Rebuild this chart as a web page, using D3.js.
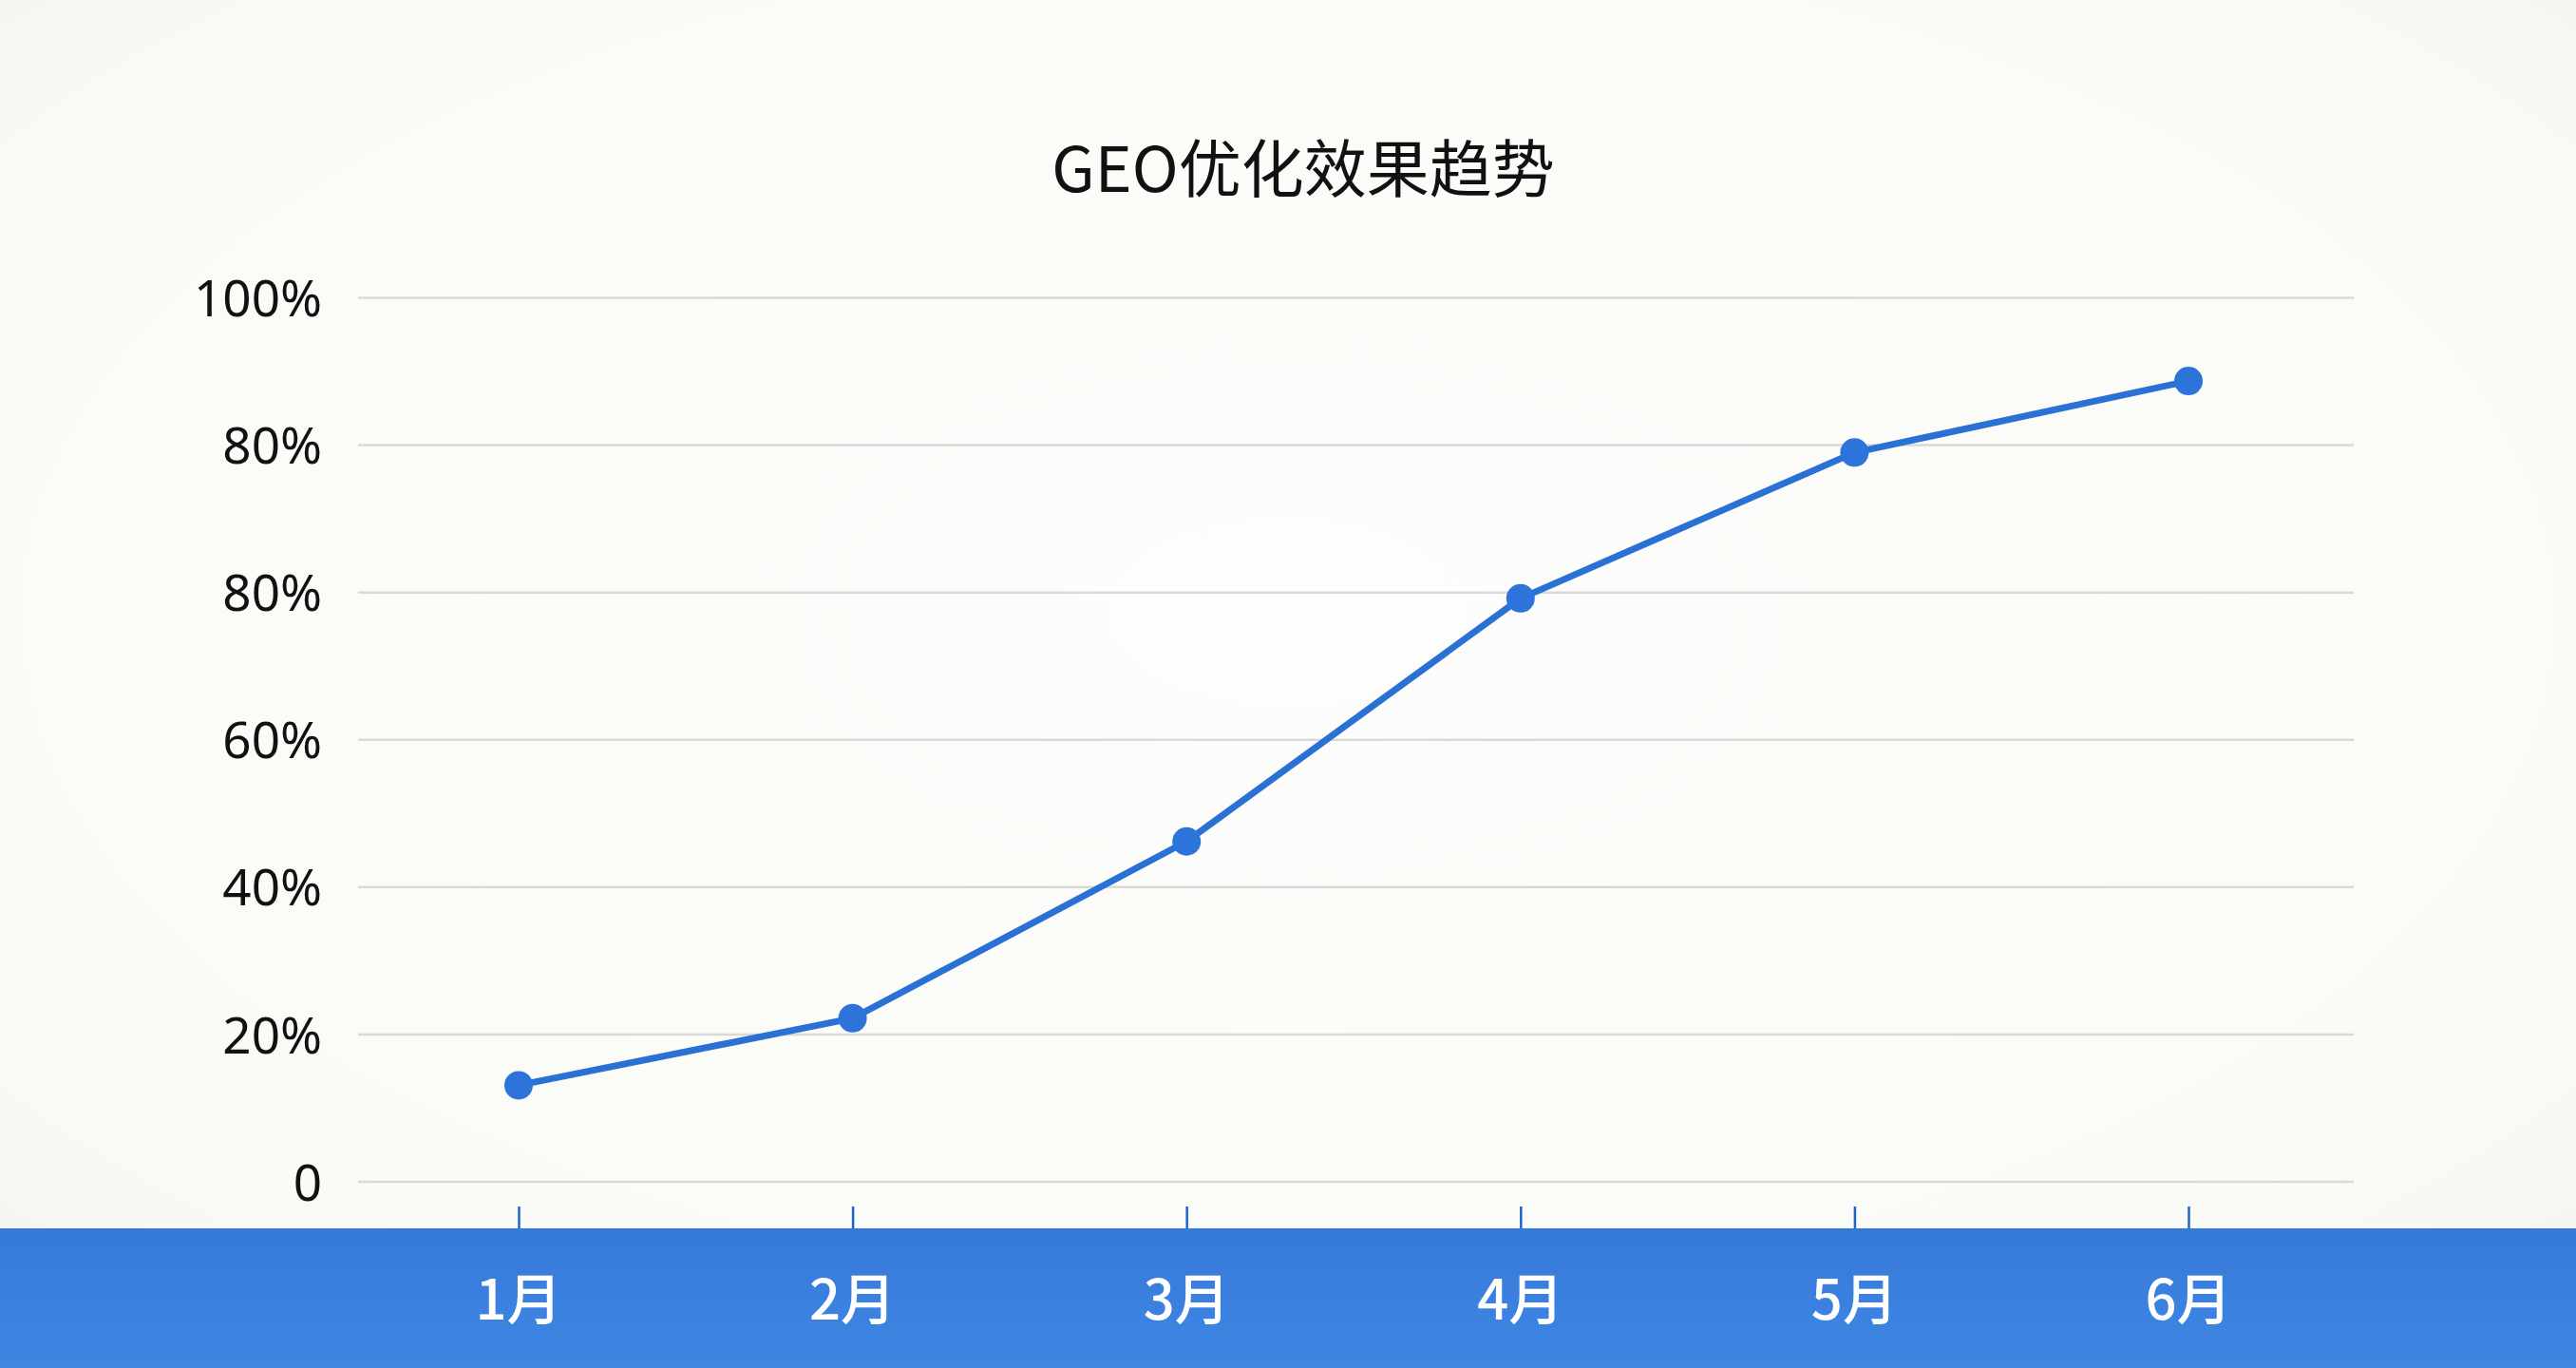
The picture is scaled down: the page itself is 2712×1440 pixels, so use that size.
<!DOCTYPE html>
<html>
<head>
<meta charset="utf-8">
<script src="https://cdn.jsdelivr.net/npm/d3@7/dist/d3.min.js"></script>
<style>
  html, body { margin: 0; padding: 0; background: #fbfbf8; }
  svg { display: block; }
</style>
</head>
<body>
<script>
// ---- data ----
const title = "GEO优化效果趋势";
const months = ["1月", "2月", "3月", "4月", "5月", "6月"];
const values = [13.1, 22.2, 46.2, 79.2, 99.0, 108.7];
const yTickValues = [0, 20, 40, 60, 80, 100, 120];
const yTickLabels = ["0", "20%", "40%", "60%", "80%", "80%", "100%"];

const W = 2712, H = 1440;
const svg = d3.select("body").append("svg").attr("width", W).attr("height", H);
const defs = svg.append("defs");

const bg = defs.append("radialGradient").attr("id", "bg").attr("cx", "50%").attr("cy", "45%").attr("r", "75%");
bg.append("stop").attr("offset", "0%").attr("stop-color", "#fdfdfb");
bg.append("stop").attr("offset", "75%").attr("stop-color", "#fafaf7");
bg.append("stop").attr("offset", "100%").attr("stop-color", "#f2f2ee");
svg.append("rect").attr("width", W).attr("height", H).attr("fill", "url(#bg)");

const band = defs.append("linearGradient").attr("id", "band").attr("x1", "0").attr("y1", "0").attr("x2", "0").attr("y2", "1");
band.append("stop").attr("offset", "0%").attr("stop-color", "#367ad9");
band.append("stop").attr("offset", "100%").attr("stop-color", "#3f86e3");

const plotLeft = 377, plotRight = 2478;
const x = d3.scalePoint().domain(months).range([546, 2304]);
const y = d3.scaleLinear().domain([0, 120]).range([1244, 313.5]);

// title
svg.append("text")
  .attr("x", 1372).attr("y", 202)
  .attr("text-anchor", "middle")
  .attr("font-family", "'Noto Sans CJK SC', 'Noto Sans', sans-serif")
  .attr("font-size", 66)
  .attr("font-weight", 400)
  .attr("fill", "#111")
  .text(title);

// gridlines
svg.append("g").selectAll("line").data(yTickValues).join("line")
  .attr("x1", plotLeft).attr("x2", plotRight)
  .attr("y1", d => y(d)).attr("y2", d => y(d))
  .attr("stroke", "#d9d9d7").attr("stroke-width", 2.5);

// y axis labels
const yAxis = d3.axisLeft(y)
  .tickValues(yTickValues)
  .tickFormat((d, i) => yTickLabels[i])
  .tickSize(0).tickPadding(0);
const gy = svg.append("g").attr("transform", "translate(339,0)").call(yAxis);
gy.select(".domain").remove();
gy.selectAll("text")
  .attr("font-family", "'Noto Sans', sans-serif")
  .attr("font-size", 53)
  .attr("fill", "#111")
  .attr("dy", "0.36em");

// bottom band
svg.append("rect").attr("x", 0).attr("y", 1293).attr("width", W).attr("height", H - 1293).attr("fill", "url(#band)");

// x axis ticks
const xAxis = d3.axisBottom(x).tickSize(23).tickFormat("");
const gx = svg.append("g").attr("transform", "translate(0,1270)").call(xAxis);
gx.select(".domain").remove();
gx.selectAll("line").attr("stroke", "#1f63cc").attr("stroke-width", 2.5);

// x labels
svg.append("g").selectAll("text").data(months).join("text")
  .attr("x", d => x(d)).attr("y", 1389)
  .attr("text-anchor", "middle")
  .attr("font-family", "'Noto Sans CJK SC', sans-serif")
  .attr("font-size", 58)
  .attr("font-weight", 500)
  .attr("fill", "#ffffff")
  .text(d => d);

// line
const line = d3.line().x((d, i) => x(months[i])).y(d => y(d));
svg.append("path").datum(values)
  .attr("d", line)
  .attr("fill", "none")
  .attr("stroke", "#2a71d6")
  .attr("stroke-width", 7)
  .attr("stroke-linejoin", "round")
  .attr("stroke-linecap", "round");

svg.append("g").selectAll("circle").data(values).join("circle")
  .attr("cx", (d, i) => x(months[i]))
  .attr("cy", d => y(d))
  .attr("r", 15)
  .attr("fill", "#2d74da");
</script>
</body>
</html>
